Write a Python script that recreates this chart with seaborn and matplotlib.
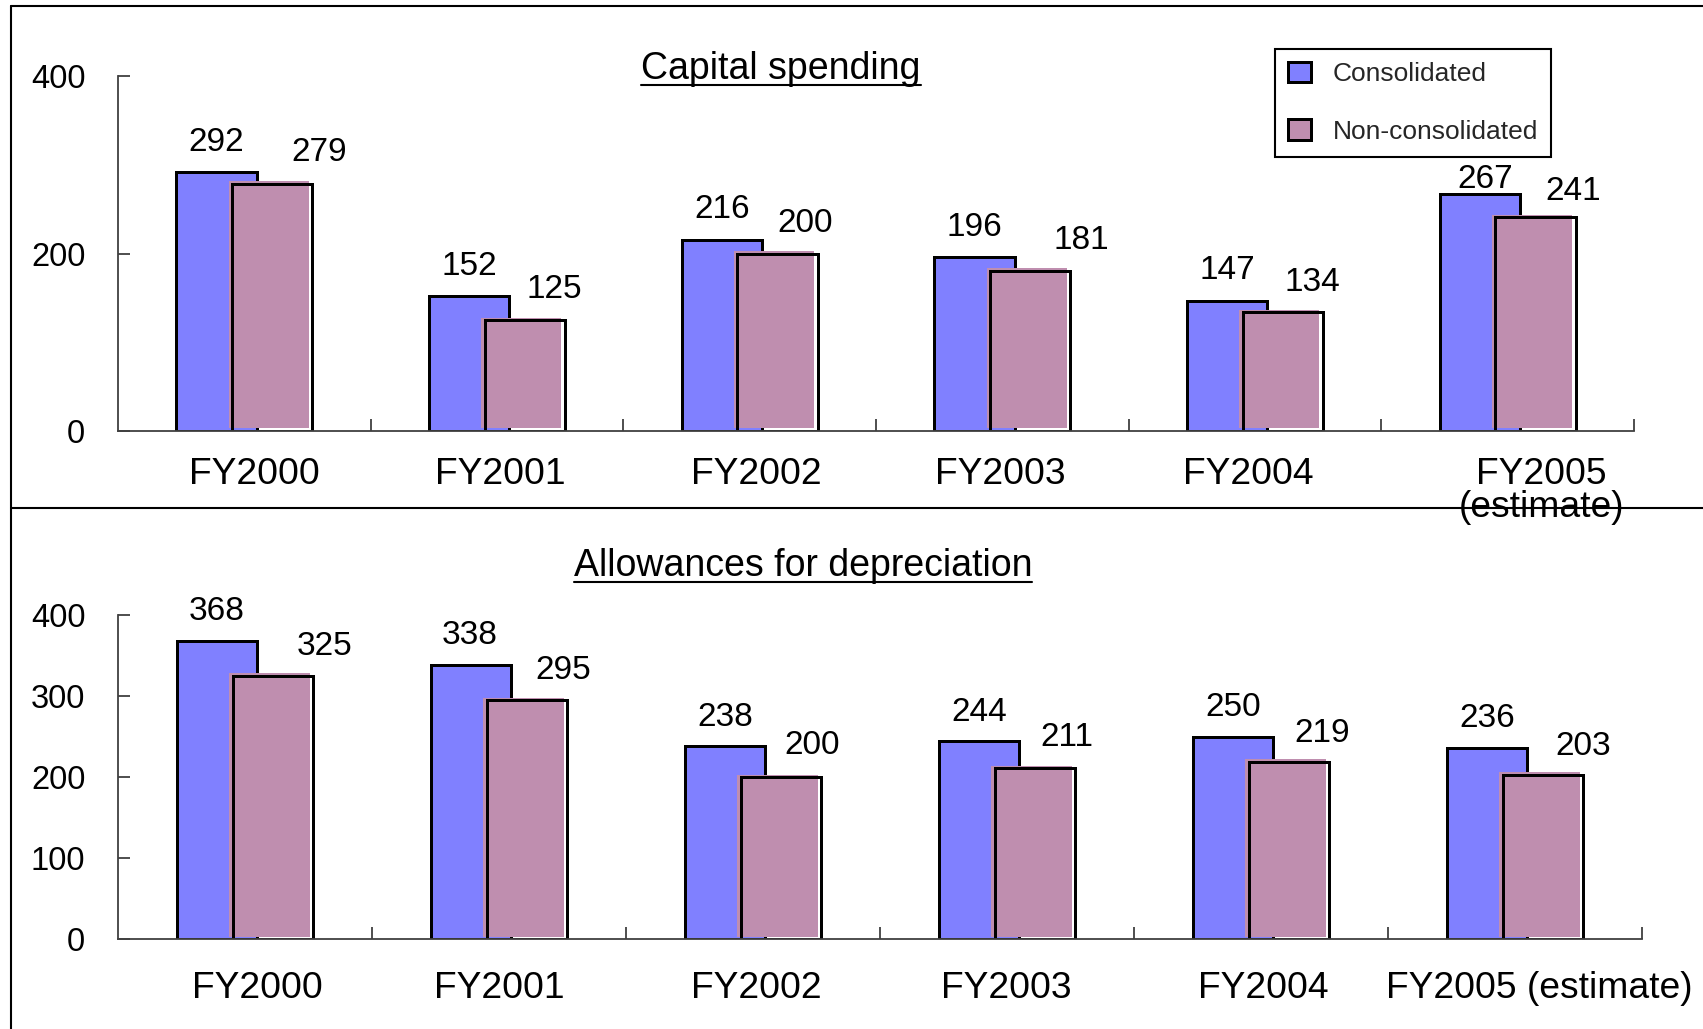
import numpy as np
import pandas as pd
import matplotlib
matplotlib.use("Agg")
import matplotlib.pyplot as plt
import matplotlib.transforms as mtransforms
from matplotlib.lines import Line2D
from matplotlib.patches import Patch
import seaborn as sns

# ---- data -------------------------------------------------------------
years_top = ["FY2000", "FY2001", "FY2002", "FY2003", "FY2004", "FY2005\n(estimate)"]
years_bottom = ["FY2000", "FY2001", "FY2002", "FY2003", "FY2004", "FY2005 (estimate)"]
series_names = ["Consolidated", "Non-consolidated"]

capex_consolidated = [292, 152, 216, 196, 147, 267]
capex_nonconsolidated = [279, 125, 200, 181, 134, 241]

dep_consolidated = [368, 338, 238, 244, 250, 236]
dep_nonconsolidated = [325, 295, 200, 211, 219, 203]

# ---- styling ----------------------------------------------------------
BLUE = "#8080FF"
MAUVE = "#BF8EAF"
AXIS_GREY = "#404040"

DPI = 100
PX = 72 / DPI          # points per pixel

BAR_W = 0.317          # bar width in category units
SHIFT = 0.11           # horizontal offset of each series from the category centre

# value-label placement (dx, rise) in pixels, relative to the bar's top centre
top_cons_lbl = [(0, 21), (0, 21), (0, 22), (0, 21), (0, 22), (5, 6)]
top_non_lbl = [(47, 23), (30, 22), (28, 22), (51, 22), (30, 21), (38, 17)]
bot_cons_lbl = [(0, 20.5), (-1, 21), (0, 20.5), (0, 20), (0, 21), (0, 20.5)]
bot_non_lbl = [(52, 21), (36, 21), (31, 23), (32, 22.5), (33, 20), (40, 20)]

# category-label nudges in pixels
top_xlabel_dx = [10, 3, 7, -2, -7, 34]
bot_xlabel_dx = [12, 0, 3, -1, 2, 24]

sns.set_theme(style="ticks")
plt.rcParams["font.family"] = ["Liberation Sans", "DejaVu Sans"]

fig = plt.figure(figsize=(17.03, 10.29), dpi=DPI)
fig.patch.set_facecolor("white")
ax_top = fig.add_axes([0.06929, 0.58115, 0.89019, 0.34461])
ax_bot = fig.add_axes([0.06929, 0.08746, 0.89489, 0.31487])


def px_shift(dx, dy):
    return mtransforms.ScaledTranslation(dx / DPI, dy / DPI, fig.dpi_scale_trans)


def draw_panel(ax, cats, cons, noncons, yticks, cons_lbl, non_lbl,
               xlabel_dx, xlabel_pad):
    idx = np.arange(len(cats))
    df_cons = pd.DataFrame({"pos": idx - SHIFT, "value": cons})
    df_non = pd.DataFrame({"pos": idx + SHIFT, "value": noncons})

    # consolidated bars
    sns.barplot(data=df_cons, x="pos", y="value", native_scale=True, orient="x",
                width=BAR_W, color=BLUE, saturation=1, errorbar=None,
                edgecolor="black", linewidth=3 * PX, ax=ax)

    # non-consolidated fill, printed slightly off its outline
    sns.barplot(data=df_non, x="pos", y="value", native_scale=True, orient="x",
                width=BAR_W, color=MAUVE, saturation=1, errorbar=None,
                linewidth=0, ax=ax)
    for p in ax.containers[-1]:
        p.set_edgecolor("none")
        p.set_transform(ax.transData + px_shift(-3.5, 2.5))

    # non-consolidated outline
    sns.barplot(data=df_non, x="pos", y="value", native_scale=True, orient="x",
                width=BAR_W, color=MAUVE, saturation=1, errorbar=None,
                linewidth=3 * PX, ax=ax)
    for p in ax.containers[-1]:
        p.set_facecolor("none")
        p.set_edgecolor("black")

    # value labels
    for i, v in enumerate(cons):
        dx, rise = cons_lbl[i]
        ax.annotate(str(v), xy=(i - SHIFT, v), xytext=(dx * PX, rise * PX),
                    textcoords="offset points", ha="center", va="baseline",
                    fontsize=24, color="black")
    for i, v in enumerate(noncons):
        dx, rise = non_lbl[i]
        ax.annotate(str(v), xy=(i + SHIFT, v), xytext=(dx * PX, rise * PX),
                    textcoords="offset points", ha="center", va="baseline",
                    fontsize=24, color="black")

    # axes cosmetics
    ax.set_xlim(-0.5, len(cats) - 0.5)
    ax.set_ylim(0, 400)
    ax.set_xlabel("")
    ax.set_ylabel("")
    ax.set_yticks(yticks)
    ax.set_yticklabels([str(t) for t in yticks], fontsize=23.5)
    ax.set_xticks(idx)
    ax.set_xticklabels(cats, fontsize=26.8)
    ax.set_xticks(np.arange(len(cats)) + 0.5, minor=True)

    ax.tick_params(axis="x", which="major", length=0, pad=xlabel_pad,
                   bottom=True, colors="black")
    ax.tick_params(axis="x", which="minor", direction="in", length=12 * PX,
                   width=1.3, color=AXIS_GREY, bottom=True)
    ax.tick_params(axis="y", which="major", direction="in", length=12 * PX,
                   width=1.3, color=AXIS_GREY, pad=23.5, left=True,
                   labelcolor="black")

    for side in ("top", "right"):
        ax.spines[side].set_visible(False)
    for side in ("left", "bottom"):
        ax.spines[side].set_color(AXIS_GREY)
        ax.spines[side].set_linewidth(1.3)

    for lbl, dx in zip(ax.get_xticklabels(), xlabel_dx):
        lbl.set_transform(lbl.get_transform() + px_shift(dx, 0))
        lbl.set_linespacing(0.95)


draw_panel(ax_top, years_top, capex_consolidated, capex_nonconsolidated,
           [0, 200, 400], top_cons_lbl, top_non_lbl, top_xlabel_dx, 18.5)
draw_panel(ax_bot, years_bottom, dep_consolidated, dep_nonconsolidated,
           [0, 100, 200, 300, 400], bot_cons_lbl, bot_non_lbl, bot_xlabel_dx, 23)

# ---- panel titles (underlined) -----------------------------------------
W, H = 1703, 1029
titles = [("Capital spending", 781, 79), ("Allowances for depreciation", 803, 576)]
title_artists = []
for text, xc, yb in titles:
    t = fig.text(xc / W, 1 - yb / H, text, ha="center", va="baseline",
                 fontsize=27, color="black")
    title_artists.append((t, yb))

fig.canvas.draw()
renderer = fig.canvas.get_renderer()
for t, yb in title_artists:
    bb = t.get_window_extent(renderer)
    y_ul = 1 - (yb + 5.5) / H
    fig.add_artist(Line2D([bb.x0 / W, bb.x1 / W], [y_ul, y_ul],
                          transform=fig.transFigure, color="black", lw=1.5))

# ---- legend -----------------------------------------------------------
handles = [
    Patch(facecolor=BLUE, edgecolor="black", linewidth=3 * PX, label=series_names[0]),
    Patch(facecolor=MAUVE, edgecolor="black", linewidth=3 * PX, label=series_names[1]),
]
leg = fig.legend(handles=handles, loc="upper left",
                 bbox_to_anchor=(1275 / W, 1 - 49 / H), bbox_transform=fig.transFigure,
                 fontsize=19, frameon=True, fancybox=False, shadow=False,
                 framealpha=1, edgecolor="black", borderaxespad=0,
                 borderpad=0.5, handlelength=0.88, handleheight=0.8,
                 handletextpad=0.8, labelspacing=1.25)
leg.get_frame().set_linewidth(1.5)

# ---- page frame ----------------------------------------------------------
frame_kw = dict(transform=fig.transFigure, color="black", lw=1.5)
fig.add_artist(Line2D([11 / W, 1], [1 - 5.5 / H, 1 - 5.5 / H], **frame_kw))
fig.add_artist(Line2D([11 / W, 11 / W], [0, 1 - 5.5 / H], **frame_kw))
fig.add_artist(Line2D([11 / W, 1], [1 - 508 / H, 1 - 508 / H], **frame_kw))

fig.savefig("out.png", dpi=DPI, facecolor="white")
